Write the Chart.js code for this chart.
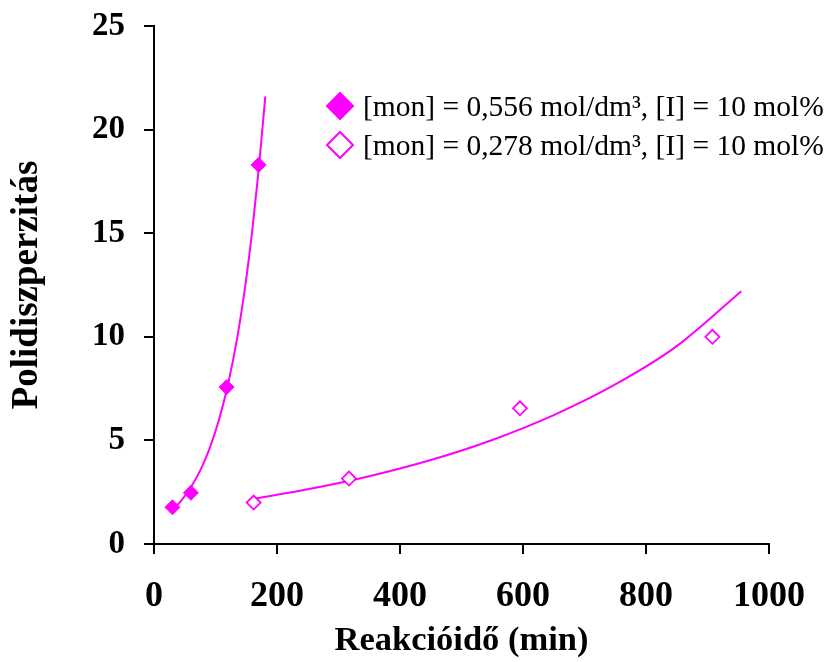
<!DOCTYPE html>
<html>
<head>
<meta charset="utf-8">
<script src="https://cdn.jsdelivr.net/npm/chart.js@4/dist/chart.umd.min.js"></script>
<style>
  html, body { margin: 0; padding: 0; background: #fff; }
  #wrap { width: 828px; height: 662px; position: relative; }
</style>
</head>
<body>
<div id="wrap"><canvas id="pdiChart" width="828" height="662"></canvas></div>
<script>
const MAGENTA = '#ff00ff';
const SERIF = '"Liberation Serif", "Times New Roman", serif';

// measured points
const timeHigh = [30, 60, 118, 170];
const pdiHigh = [1.77, 2.47, 7.57, 18.3];
const timeLow = [162, 317, 595, 908];
const pdiLow = [2.0, 3.16, 6.55, 10.0];

// trend lines (exponential fit curves)
const trendHighTime = [30, 45, 60, 75, 90, 105, 120, 135, 150, 160, 170, 181];
const trendHighPdi = [1.64, 2.12, 2.74, 3.54, 4.58, 5.92, 7.66, 9.9, 12.8, 15.2, 18.0, 21.6];
const trendLowTime = [165, 250, 350, 450, 550, 650, 750, 850, 955];
const trendLowPdi = [2.2, 2.64, 3.27, 4.05, 5.02, 6.22, 7.7, 9.55, 12.2];

const xTicks = [0, 200, 400, 600, 800, 1000];
const yTicks = [0, 5, 10, 15, 20, 25];

const labelHigh = '[mon] = 0,556 mol/dm³, [I] = 10 mol%';
const labelLow = '[mon] = 0,278 mol/dm³, [I] = 10 mol%';

function toPoints(xs, ys) {
    return xs.map((x, i) => ({ x: x, y: ys[i] }));
}

// legend drawn in the upper right of the plot
const cornerLegend = {
    id: 'cornerLegend',
    afterDraw(chart) {
        const ctx = chart.ctx;
        const rows = [
            { text: labelHigh, filled: true },
            { text: labelLow, filled: false }
        ];
        ctx.save();
        ctx.font = '29.5px ' + SERIF;
        ctx.textBaseline = 'middle';
        rows.forEach((row, i) => {
            const cy = 106 + i * 39;
            const cx = 340;
            const r = 13;
            ctx.beginPath();
            ctx.moveTo(cx, cy - r);
            ctx.lineTo(cx + r, cy);
            ctx.lineTo(cx, cy + r);
            ctx.lineTo(cx - r, cy);
            ctx.closePath();
            ctx.lineWidth = 2;
            ctx.strokeStyle = MAGENTA;
            ctx.fillStyle = row.filled ? MAGENTA : '#fff';
            ctx.fill();
            ctx.stroke();
            ctx.fillStyle = '#000';
            ctx.fillText(row.text, 363, cy + 2);
        });
        ctx.restore();
    }
};

const axisLine = { color: '#000', width: 2 };
const tickGrid = {
    drawOnChartArea: false,
    drawTicks: true,
    tickLength: 10,
    color: '#000',
    lineWidth: 2
};

new Chart(document.getElementById('pdiChart'), {
    type: 'scatter',
    data: {
        datasets: [
            {
                label: labelHigh,
                data: toPoints(timeHigh, pdiHigh),
                pointStyle: 'rectRot',
                pointRadius: 7.5,
                pointBackgroundColor: MAGENTA,
                pointBorderColor: MAGENTA,
                pointBorderWidth: 1,
                order: 0
            },
            {
                label: labelLow,
                data: toPoints(timeLow, pdiLow),
                pointStyle: 'rectRot',
                pointRadius: 7,
                pointBackgroundColor: '#fff',
                pointBorderColor: MAGENTA,
                pointBorderWidth: 1.8,
                order: 1
            },
            {
                label: 'trend high',
                data: toPoints(trendHighTime, trendHighPdi),
                showLine: true,
                pointRadius: 0,
                borderColor: MAGENTA,
                borderWidth: 2,
                cubicInterpolationMode: 'monotone',
                order: 2
            },
            {
                label: 'trend low',
                data: toPoints(trendLowTime, trendLowPdi),
                showLine: true,
                pointRadius: 0,
                borderColor: MAGENTA,
                borderWidth: 2,
                cubicInterpolationMode: 'monotone',
                order: 3
            }
        ]
    },
    options: {
        responsive: false,
        animation: false,
        events: [],
        layout: { padding: { top: 26, right: 59, bottom: 0, left: 0 } },
        plugins: {
            legend: { display: false },
            tooltip: { enabled: false }
        },
        scales: {
            x: {
                type: 'linear',
                min: 0,
                max: 1000,
                border: axisLine,
                grid: tickGrid,
                afterBuildTicks: (scale) => { scale.ticks = xTicks.map(v => ({ value: v })); },
                afterFit: (scale) => {
                    scale.height = 118;
                    scale.paddingLeft = 0;
                    scale.paddingRight = 0;
                },
                ticks: {
                    color: '#000',
                    padding: 21,
                    callback: (v) => String(v),
                    font: { family: SERIF, size: 36, weight: 'bold' }
                },
                title: {
                    display: true,
                    text: 'Reakcióidő (min)',
                    color: '#000',
                    padding: { top: 0, bottom: 0 },
                    font: { family: SERIF, size: 34.5, weight: 'bold' }
                }
            },
            y: {
                type: 'linear',
                min: 0,
                max: 25,
                border: axisLine,
                grid: tickGrid,
                afterBuildTicks: (scale) => { scale.ticks = yTicks.map(v => ({ value: v })); },
                afterFit: (scale) => {
                    scale.width = 154;
                    scale.paddingTop = 0;
                    scale.paddingBottom = 0;
                },
                ticks: {
                    color: '#000',
                    padding: 19,
                    font: { family: SERIF, size: 33, weight: 'bold' }
                },
                title: {
                    display: true,
                    text: 'Polidiszperzitás',
                    color: '#000',
                    padding: { top: 5, bottom: 0 },
                    font: { family: SERIF, size: 37, weight: 'bold' }
                }
            }
        }
    },
    plugins: [cornerLegend]
});
</script>
</body>
</html>
